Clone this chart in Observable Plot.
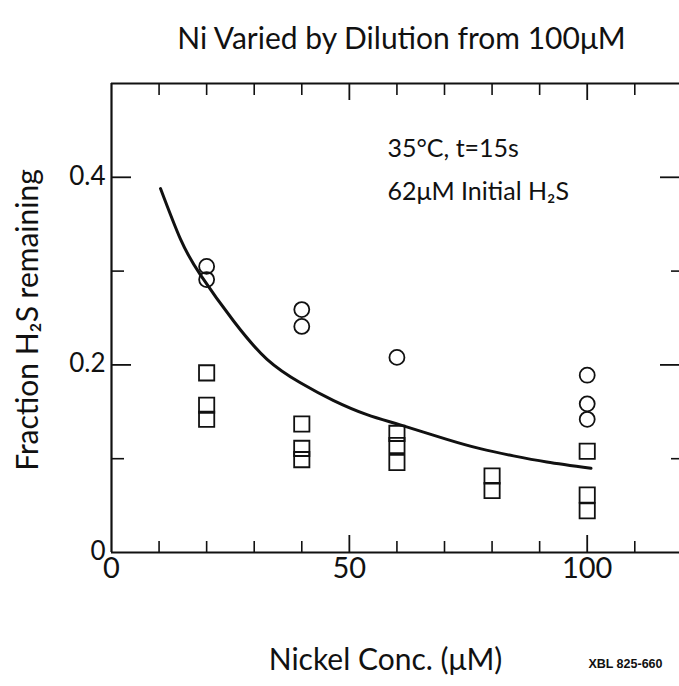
<!DOCTYPE html>
<html>
<head>
<meta charset="utf-8">
<script src="https://cdn.jsdelivr.net/npm/d3@7"></script>
<script src="https://cdn.jsdelivr.net/npm/@observablehq/plot@0.6"></script>
<style>
  html, body { margin: 0; padding: 0; background: white; overflow: hidden; }
  svg { overflow: hidden; }
</style>
</head>
<body>
<div id="chart"></div>
<script>
// ---- data ----
const circleX = [20, 20, 40, 40, 60, 100, 100, 100];
const circleY = [0.305, 0.291, 0.259, 0.241, 0.208, 0.189, 0.1585, 0.142];

const squareX = [20, 20, 20, 40, 40, 40, 60, 60, 60, 80, 80, 100, 100, 100];
const squareY = [0.1915, 0.157, 0.142, 0.137, 0.111, 0.099, 0.127, 0.114, 0.096, 0.0816, 0.066, 0.108, 0.0614, 0.0444];

const curveX = [10.3, 14.5, 18.7, 25.7, 32.7, 39.7, 46.7, 53.7, 60.7, 70.5, 77.5, 84.5, 91.5, 100.8];
const curveY = [0.388, 0.334, 0.296, 0.2465, 0.206, 0.181, 0.162, 0.147, 0.136, 0.1206, 0.1107, 0.103, 0.0965, 0.0898];

const xTicksMinor = [10, 20, 30, 40, 60, 70, 80, 90, 110];
const xTicksMajor = [50, 100];
const xTickLabels = [0, 50, 100];
const yTicksMinor = [0.1, 0.3];
const yTicksMajor = [0.2, 0.4];
const yTickValues = [0, 0.2, 0.4];
const yTickLabels = ["0", "0.2", "0.4"];

const titleText = "Ni Varied by Dilution from 100μM";
const xTitle = "Nickel Conc. (μM)";
const yTitle = "Fraction H₂S remaining";
const noteLines = ["35°C, t=15s", "62μM Initial H₂S"];
const captionText = "XBL 825-660";

// ---- build ----
const W = 679, H = 686;
const mL = 111, mR = 0, mT = 83, mB = 134;
const plotW = W - mL - mR;   // 568
const plotH = H - mT - mB;   // 469

const circles = circleX.map((x, i) => ({x, y: circleY[i]}));
const squares = squareX.map((x, i) => ({x, y: squareY[i]}));
const curve = curveX.map((x, i) => ({x, y: curveY[i]}));

const FONT = "Lato, 'Open Sans', 'DejaVu Sans', sans-serif";
const ink = "#111";

const chart = Plot.plot({
  width: W,
  height: H,
  marginLeft: mL,
  marginRight: mR,
  marginTop: mT,
  marginBottom: mB,
  style: {background: "white", fontFamily: FONT, color: ink},
  x: {domain: [0, 119.4], axis: null},
  y: {domain: [0, 0.5], axis: null},
  marks: [
    // frame (left, bottom, top; right side lies beyond the picture)
    Plot.ruleX([0], {stroke: ink, strokeWidth: 2.2}),
    Plot.ruleY([0], {stroke: ink, strokeWidth: 2.2}),
    Plot.ruleY([0.5], {stroke: ink, strokeWidth: 2.2}),

    // bottom ticks (inward)
    Plot.tickX(xTicksMinor, {x: d => d, insetTop: plotH - 11, stroke: ink, strokeWidth: 1.6}),
    Plot.tickX(xTicksMajor, {x: d => d, insetTop: plotH - 17, stroke: ink, strokeWidth: 1.8}),
    // top ticks (inward)
    Plot.tickX(xTicksMinor, {x: d => d, insetBottom: plotH - 12, stroke: ink, strokeWidth: 1.6}),
    Plot.tickX(xTicksMajor, {x: d => d, insetBottom: plotH - 17, stroke: ink, strokeWidth: 1.8}),
    // left ticks (inward)
    Plot.tickY(yTicksMinor, {y: d => d, insetRight: plotW - 13, stroke: ink, strokeWidth: 1.6}),
    Plot.tickY(yTicksMajor, {y: d => d, insetRight: plotW - 20, stroke: ink, strokeWidth: 1.8}),
    // right ticks (coming in from the off-picture right edge)
    Plot.tickY(yTicksMinor, {y: d => d, insetLeft: plotW - 8, stroke: ink, strokeWidth: 1.6}),
    Plot.tickY(yTicksMajor, {y: d => d, insetLeft: plotW - 19, stroke: ink, strokeWidth: 1.8}),

    // tick labels
    Plot.text(xTickLabels, {x: d => d, text: d => String(d), frameAnchor: "bottom", lineAnchor: "top", dy: 5,
      fontSize: 29, fontFamily: FONT, fill: ink}),
    Plot.text(yTickValues, {y: d => d, text: (d, i) => yTickLabels[i], frameAnchor: "left", textAnchor: "end",
      lineAnchor: "middle", dx: -6, dy: -1, fontSize: 26, fontFamily: FONT, fill: ink}),

    // fitted curve
    Plot.line(curve, {x: "x", y: "y", curve: "natural", stroke: ink, strokeWidth: 3}),

    // data points
    Plot.dot(circles, {x: "x", y: "y", r: 7.5, symbol: "circle", fill: "none", stroke: ink, strokeWidth: 1.8}),
    Plot.dot(squares, {x: "x", y: "y", r: 8.6, symbol: "square", fill: "none", stroke: ink, strokeWidth: 1.8}),

    // annotations
    Plot.text([noteLines[0]], {frameAnchor: "top-left", textAnchor: "start", lineAnchor: "middle",
      dx: 276, dy: 65, fontSize: 25, fontFamily: FONT, fill: ink}),
    Plot.text([noteLines[1]], {frameAnchor: "top-left", textAnchor: "start", lineAnchor: "middle",
      dx: 276, dy: 108, fontSize: 25, fontFamily: FONT, fill: ink}),

    // titles
    Plot.text([titleText], {frameAnchor: "top", textAnchor: "middle", lineAnchor: "middle", dx: 6, dy: -44,
      fontSize: 30, fontFamily: FONT, fill: ink}),
    Plot.text([xTitle], {frameAnchor: "bottom", textAnchor: "middle", lineAnchor: "middle", dx: -10, dy: 108,
      fontSize: 30, fontFamily: FONT, fill: ink}),
    Plot.text([yTitle], {frameAnchor: "left", textAnchor: "middle", lineAnchor: "middle", rotate: -90, dx: -83, dy: 2,
      fontSize: 30, fontFamily: FONT, fill: ink}),
    Plot.text([captionText], {frameAnchor: "bottom-right", textAnchor: "end", lineAnchor: "middle",
      dx: -17, dy: 111, fontSize: 12.5, fontWeight: "bold", fontFamily: "'Liberation Sans', Arial, sans-serif", fill: ink})
  ]
});

document.getElementById("chart").appendChild(chart);
</script>
</body>
</html>
